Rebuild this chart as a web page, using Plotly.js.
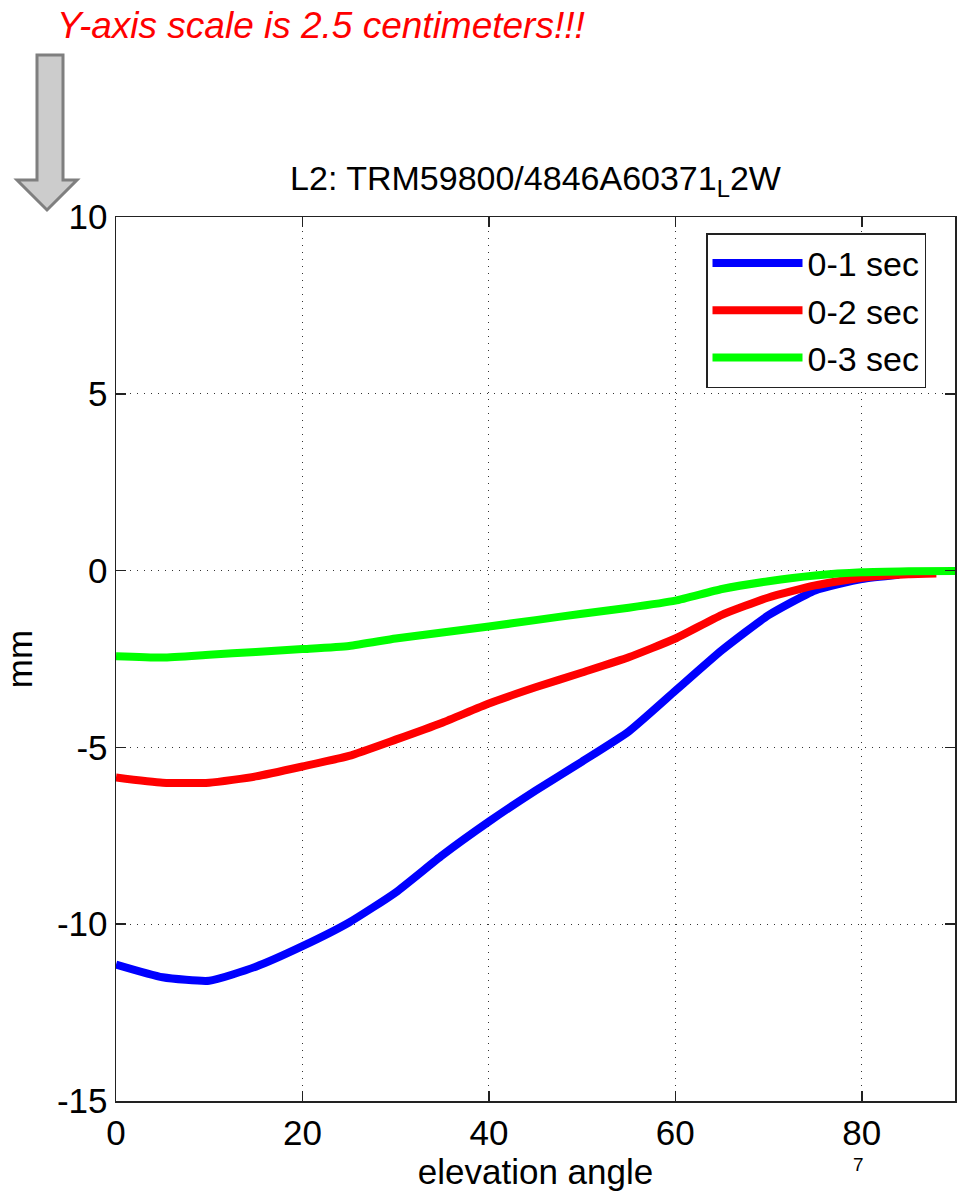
<!DOCTYPE html>
<html>
<head>
<meta charset="utf-8">
<script src="https://cdn.plot.ly/plotly-3.0.1.min.js"></script>
<style>
html,body{margin:0;padding:0;background:#fff;}
#chart{width:961px;height:1192px;}
</style>
</head>
<body>
<div id="chart"></div>
<script>
// ---- data ----
const seriesNames = ["0-1 sec", "0-2 sec", "0-3 sec"];
const seriesColors = ["#0000ff", "#ff0000", "#00ff00"];

const elev1 = [0, 5, 10, 15, 20, 25, 30, 35, 40, 45, 50, 55, 60, 65, 70, 75, 80, 84];
const mm1 = [-11.14, -11.5, -11.6, -11.2, -10.62, -9.95, -9.1, -8.05, -7.1, -6.22, -5.4, -4.55, -3.4, -2.25, -1.26, -0.56, -0.24, -0.12];

const elev2 = [0, 5, 10, 15, 20, 25, 30, 35, 40, 45, 50, 55, 60, 65, 70, 75, 80, 85, 88];
const mm2 = [-5.85, -6.0, -6.0, -5.82, -5.54, -5.24, -4.78, -4.3, -3.76, -3.3, -2.88, -2.45, -1.92, -1.25, -0.76, -0.42, -0.2, -0.1, -0.08];

const elev3 = [0, 5, 10, 15, 20, 25, 30, 35, 40, 45, 50, 55, 60, 65, 70, 75, 80, 85, 90];
const mm3 = [-2.42, -2.46, -2.38, -2.3, -2.22, -2.13, -1.92, -1.75, -1.58, -1.4, -1.22, -1.05, -0.85, -0.52, -0.3, -0.14, -0.05, -0.02, -0.01];

const xTicks = [0, 20, 40, 60, 80];
const yTicks = [-15, -10, -5, 0, 5, 10];

const titleText = "L2: TRM59800/4846A60371<sub>L</sub>2W";
const noteText = "<i>Y-axis scale is 2.5 centimeters!!!</i>";
const pageNumber = "7";

// ---- layout geometry ----
const W = 961, H = 1192;
const M = {l: 116, r: 6, t: 217, b: 91};
const PW = W - M.l - M.r, PH = H - M.t - M.b;
const px = x => (x - M.l) / PW;            // page pixel -> paper x
const py = y => (H - M.b - y) / PH;        // page pixel -> paper y

const FONT = "Liberation Sans, Arial, sans-serif";

// decorative grey arrow (page pixels)
const arrowPts = [[37,55],[63,55],[63,180],[77,180],[47,210],[17,180],[37,180]];
const arrowPath = "M" + arrowPts.map(p => px(p[0]).toFixed(5) + "," + py(p[1]).toFixed(5)).join("L") + "Z";

const xs = [elev1, elev2, elev3];
const ys = [mm1, mm2, mm3];
const traces = xs.map((x, i) => ({
  type: "scatter", mode: "lines",
  x: x, y: ys[i], name: seriesNames[i],
  line: {color: seriesColors[i], width: 8, shape: "spline", smoothing: 0.5}
}));

const axisCommon = {
  showline: true, linecolor: "#222", linewidth: 1.5, mirror: "ticks",
  ticks: "inside", ticklen: 10, tickwidth: 1.5, tickcolor: "#222",
  showgrid: true, gridcolor: "#333", gridwidth: 1, griddash: "1px,6px",
  zeroline: false,
  tickfont: {family: FONT, size: 35, color: "#000"}
};

const layout = {
  width: W, height: H,
  margin: M,
  paper_bgcolor: "#fff", plot_bgcolor: "#fff",
  font: {family: FONT, color: "#000"},
  title: {
    text: titleText,
    font: {family: FONT, size: 34, color: "#000"},
    xref: "paper", x: 0.5, xanchor: "center",
    yref: "container", y: 1 - 178 / H, yanchor: "middle"
  },
  xaxis: Object.assign({}, axisCommon, {
    range: [0, 90], tickvals: xTicks, ticktext: xTicks.map(String),
    title: {text: "elevation angle", font: {family: FONT, size: 35, color: "#000"}, standoff: 2}
  }),
  yaxis: Object.assign({}, axisCommon, {
    range: [-15, 10], tickvals: yTicks, ticktext: yTicks.map(String),
    title: {text: "mm", font: {family: FONT, size: 35, color: "#000"}, standoff: 18}
  }),
  showlegend: true,
  legend: {
    x: px(706), y: py(233), xanchor: "left", yanchor: "top",
    bgcolor: "#fff", bordercolor: "#222", borderwidth: 1.5,
    font: {family: FONT, size: 34, color: "#000"},
    itemwidth: 90, tracegroupgap: 0
  },
  shapes: [{
    type: "path", xref: "paper", yref: "paper", path: arrowPath,
    fillcolor: "#cccccc", line: {color: "#7f7f7f", width: 3}, layer: "above"
  }],
  annotations: [
    {text: noteText, xref: "paper", yref: "paper", x: px(55), y: py(25),
     xanchor: "left", yanchor: "middle", showarrow: false,
     font: {family: FONT, size: 37, color: "#ff0000"}},
    {text: pageNumber, xref: "paper", yref: "paper", x: px(858), y: py(1164),
     xanchor: "center", yanchor: "middle", showarrow: false,
     font: {family: FONT, size: 19, color: "#000"}}
  ]
};

Plotly.newPlot("chart", traces, layout, {displayModeBar: false, staticPlot: true});
</script>
</body>
</html>
